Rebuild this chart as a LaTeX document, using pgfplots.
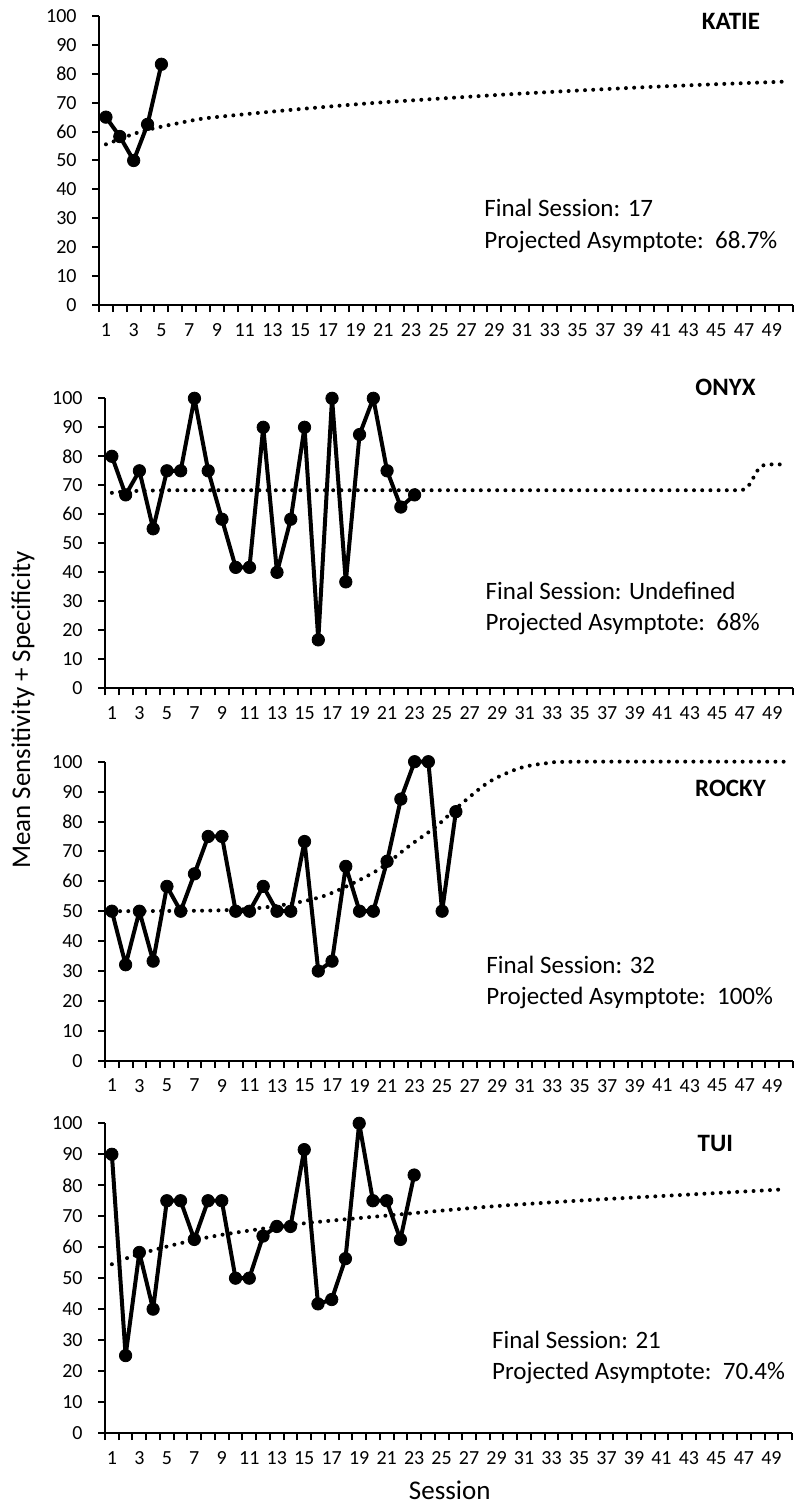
\documentclass[border=0pt]{standalone}
\usepackage{fontspec}
\setmainfont{Carlito}
\usepackage{pgfplots}
\pgfplotsset{compat=1.18}

% session scores, one table per subject
\pgfplotstableread{
s v
1 65
2 58.3
3 50
4 62.5
5 83.3
}\katie
\pgfplotstableread{
s v
1 55.6
2 57.4
3 59.2
4 60.6
5 61.7
6 62.7
8 64.5
11 66.0
15 67.8
20 69.8
25 71.4
30 72.9
35 74.2
40 75.4
45 76.4
50 77.3
}\katiefit
\pgfplotstableread{
s v
1 80
2 66.7
3 75
4 55
5 75
6 75
7 100
8 75
9 58.3
10 41.7
11 41.7
12 90
13 40
14 58.3
15 90
16 16.7
17 100
18 36.7
19 87.5
20 100
21 75
22 62.5
23 66.7
}\onyx
\pgfplotstableread{
s v
1 67.4
2 67.9
3 68.1
5 68.3
46.8 68.3
47.2 69.3
47.5 71.5
47.8 74.3
48.1 76.3
48.4 77.0
48.8 77.2
50 77.2
}\onyxfit
\pgfplotstableread{
s v
1 50
2 32.1
3 50
4 33.3
5 58.3
6 50
7 62.5
8 75
9 75
10 50
11 50
12 58.3
13 50
14 50
15 73.3
16 30
17 33.3
18 65
19 50
20 50
21 66.7
22 87.5
23 100
24 100
25 50
26 83.3
}\rocky
\pgfplotstableread{
s v
1 50
8 50.2
11 50.8
13 51.8
15 53.4
16.6 55.4
18.5 59.3
20.5 64.3
22.6 71.8
24.5 78.1
26.3 85.5
28.4 93.2
30.6 97.8
32.6 99.5
35 100
50 100
}\rockyfit
\pgfplotstableread{
s v
1 90
2 25
3 58.3
4 40
5 75
6 75
7 62.5
8 75
9 75
10 50
11 50
12 63.6
13 66.7
14 66.7
15 91.5
16 41.7
17 43.1
18 56.3
19 100
20 75
21 75
22 62.5
23 83.3
}\tui
\pgfplotstableread{
s v
1 54.5
2 56.3
3 57.8
5 60.2
7 62.3
9 64.0
12 66.0
15 67.7
18 69.0
22 70.6
26 72.2
30 73.6
36 75.3
43 77.0
50 78.7
}\tuifit

\pgfplotsset{
  panel/.style={
    scale only axis,
    anchor=south west,
    xmin=0.5, xmax=50.5, ymin=0, ymax=100,
    axis lines*=left,
    axis line style={line width=1pt},
    xtick={1,3,...,49},
    minor xtick={0.5,1.5,...,50.5},
    ytick={0,10,...,100},
    tick align=outside,
    major tick length=3.5pt,
    minor tick length=3.5pt,
    every tick/.style={black, line width=1pt},
    every major x tick/.append style={draw=none},
    /pgf/number format/assume math mode=true,
    ticklabel style={font=\fontsize{10}{12}\selectfont, inner sep=0pt},
    xticklabel style={anchor=north, yshift=-5.5pt},
    yticklabel style={anchor=east, xshift=-7.5pt},
    clip=false,
  },
  fit/.style={black, line width=2pt, line cap=round,
    dash pattern=on 0pt off 4.1pt, no markers},
  obs/.style={black, line width=2pt, line join=round, mark=*,
    mark size=3.1pt, mark options={solid, line width=0.4pt}},
}

\begin{document}
\begin{tikzpicture}
\path[use as bounding box] (0,0) rectangle (397.5pt,-754pt);

% KATIE
\begin{axis}[panel, at={(49.5pt,-152.5pt)}, width=346.8pt, height=144.5pt]
  \addplot[fit, smooth] table[x=s, y=v] {\katiefit};
  \addplot[obs] table[x=s, y=v] {\katie};
\end{axis}

% ONYX
\begin{axis}[panel, at={(52.5pt,-344.15pt)}, width=344pt, height=145pt]
  \addplot[fit] table[x=s, y=v] {\onyxfit};
  \addplot[obs] table[x=s, y=v] {\onyx};
\end{axis}

% ROCKY
\begin{axis}[panel, at={(52.5pt,-530.35pt)}, width=344pt, height=149.5pt]
  \addplot[fit, smooth] table[x=s, y=v] {\rockyfit};
  \addplot[obs] table[x=s, y=v] {\rocky};
\end{axis}

% TUI
\begin{axis}[panel, at={(52.5pt,-716.5pt)}, width=343.5pt, height=154.85pt]
  \addplot[fit, smooth] table[x=s, y=v] {\tuifit};
  \addplot[obs] table[x=s, y=v] {\tui};
\end{axis}

% subject names
\begin{scope}[every node/.style={anchor=base, inner sep=0pt,
    font=\fontsize{12.5}{15}\selectfont\bfseries}]
  \node at (365.5pt,-15pt) {KATIE};
  \node at (362.75pt,-197.5pt) {ONYX};
  \node at (365.25pt,-398pt) {ROCKY};
  \node at (357.65pt,-575.85pt) {TUI};
\end{scope}

% fitted-curve summaries
\begin{scope}[every node/.style={anchor=base west, inner sep=0pt,
    font=\fontsize{12.5}{15}\selectfont}]
  \node at (242pt,-108.35pt) {Final Session: 17};
  \node at (242pt,-124.15pt) {Projected Asymptote:\ \ 68.7\%};
  \node at (242.65pt,-299.65pt) {Final Session: Undefined};
  \node at (242.65pt,-315pt) {Projected Asymptote:\ \ 68\%};
  \node at (243pt,-486.65pt) {Final Session: 32};
  \node at (243pt,-502pt) {Projected Asymptote:\ \ 100\%};
  \node at (245.85pt,-674.15pt) {Final Session: 21};
  \node at (245.85pt,-689.65pt) {Projected Asymptote:\ \ 70.4\%};
\end{scope}

% shared axis titles
\node[rotate=90, anchor=base, inner sep=0pt, font=\fontsize{13.5}{16}\selectfont]
  at (15pt,-355pt) {Mean Sensitivity + Specificity};
\node[anchor=base, inner sep=0pt, font=\fontsize{13.5}{16}\selectfont]
  at (224.85pt,-749.65pt) {Session};
\end{tikzpicture}
\end{document}
